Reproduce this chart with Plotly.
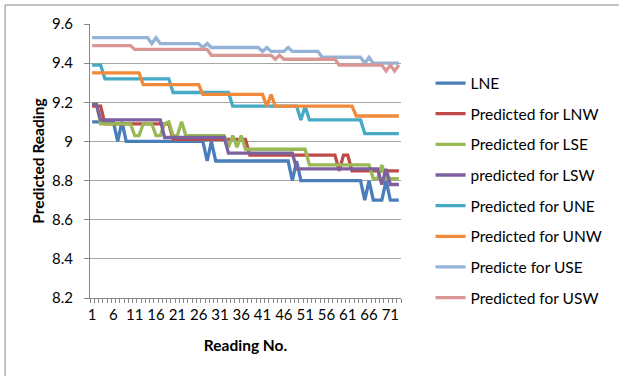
import plotly.graph_objects as go

readings = list(range(1, 74))
x_tick_vals = [1, 6, 11, 16, 21, 26, 31, 36, 41, 46, 51, 56, 61, 66, 71]
x_tick_labels = ["1", "6", "11", "16", "21", "26", "31", "36", "41", "46", "51", "56", "61", "66", "71"]
y_tick_vals = [8.2, 8.4, 8.6, 8.8, 9.0, 9.2, 9.4, 9.6]
y_tick_labels = ["8.2", "8.4", "8.6", "8.8", "9", "9.2", "9.4", "9.6"]

lne = [9.1, 9.1, 9.1, 9.1, 9.1, 9.1, 9.0, 9.1, 9.0, 9.0,
       9.0, 9.0, 9.0, 9.0, 9.0, 9.0, 9.0, 9.0, 9.0, 9.0,
       9.0, 9.0, 9.0, 9.0, 9.0, 9.0, 9.0, 8.9, 9.0, 8.9,
       8.9, 8.9, 8.9, 8.9, 8.9, 8.9, 8.9, 8.9, 8.9, 8.9,
       8.9, 8.9, 8.9, 8.9, 8.9, 8.9, 8.9, 8.8, 8.9, 8.8,
       8.8, 8.8, 8.8, 8.8, 8.8, 8.8, 8.8, 8.8, 8.8, 8.8,
       8.8, 8.8, 8.8, 8.8, 8.7, 8.8, 8.7, 8.7, 8.7, 8.8,
       8.7, 8.7, 8.7]

lnw = [9.18, 9.18, 9.18, 9.09, 9.09, 9.09, 9.09, 9.09, 9.09, 9.09,
       9.09, 9.09, 9.09, 9.09, 9.09, 9.09, 9.09, 9.09, 9.09, 9.01,
       9.01, 9.01, 9.01, 9.01, 9.01, 9.01, 9.01, 9.01, 9.01, 9.01,
       9.01, 9.01, 9.01, 9.01, 9.01, 9.01, 9.01, 8.93, 8.93, 8.93,
       8.93, 8.93, 8.93, 8.93, 8.93, 8.93, 8.93, 8.93, 8.93, 8.93,
       8.93, 8.93, 8.93, 8.93, 8.93, 8.93, 8.93, 8.93, 8.85, 8.93,
       8.93, 8.85, 8.85, 8.85, 8.85, 8.85, 8.85, 8.85, 8.85, 8.85,
       8.85, 8.85, 8.85]

lse = [9.19, 9.19, 9.09, 9.09, 9.09, 9.09, 9.09, 9.09, 9.09, 9.09,
       9.03, 9.03, 9.09, 9.09, 9.09, 9.03, 9.03, 9.09, 9.10, 9.03,
       9.03, 9.10, 9.03, 9.03, 9.03, 9.03, 9.03, 9.03, 9.03, 9.03,
       9.03, 9.03, 8.97, 9.03, 8.97, 9.03, 8.96, 8.96, 8.96, 8.96,
       8.96, 8.96, 8.96, 8.96, 8.96, 8.96, 8.96, 8.96, 8.96, 8.96,
       8.96, 8.88, 8.88, 8.88, 8.88, 8.88, 8.88, 8.88, 8.88, 8.88,
       8.88, 8.88, 8.88, 8.88, 8.88, 8.88, 8.81, 8.81, 8.88, 8.81,
       8.81, 8.81, 8.81]

lsw = [9.19, 9.19, 9.11, 9.11, 9.11, 9.11, 9.11, 9.11, 9.11, 9.11,
       9.11, 9.11, 9.11, 9.11, 9.11, 9.11, 9.11, 9.02, 9.02, 9.02,
       9.02, 9.02, 9.02, 9.02, 9.02, 9.02, 9.02, 9.02, 9.02, 9.02,
       9.02, 9.02, 8.94, 8.94, 8.94, 8.94, 8.94, 8.94, 8.94, 8.94,
       8.94, 8.94, 8.94, 8.94, 8.94, 8.94, 8.94, 8.94, 8.86, 8.86,
       8.86, 8.86, 8.86, 8.86, 8.86, 8.86, 8.86, 8.86, 8.86, 8.86,
       8.86, 8.86, 8.86, 8.86, 8.86, 8.86, 8.86, 8.86, 8.78, 8.86,
       8.78, 8.78, 8.78]

une = [9.39, 9.39, 9.39, 9.32, 9.32, 9.32, 9.32, 9.32, 9.32, 9.32,
       9.32, 9.32, 9.32, 9.32, 9.32, 9.32, 9.32, 9.32, 9.32, 9.25,
       9.25, 9.25, 9.25, 9.25, 9.25, 9.25, 9.25, 9.25, 9.25, 9.25,
       9.25, 9.25, 9.25, 9.18, 9.18, 9.18, 9.18, 9.18, 9.18, 9.18,
       9.18, 9.18, 9.18, 9.18, 9.18, 9.18, 9.18, 9.18, 9.18, 9.11,
       9.18, 9.11, 9.11, 9.11, 9.11, 9.11, 9.11, 9.11, 9.11, 9.11,
       9.11, 9.11, 9.11, 9.11, 9.04, 9.04, 9.04, 9.04, 9.04, 9.04,
       9.04, 9.04, 9.04]

unw = [9.35, 9.35, 9.35, 9.35, 9.35, 9.35, 9.35, 9.35, 9.35, 9.35,
       9.35, 9.35, 9.29, 9.29, 9.29, 9.29, 9.29, 9.29, 9.29, 9.29,
       9.29, 9.29, 9.29, 9.29, 9.29, 9.29, 9.24, 9.24, 9.24, 9.24,
       9.24, 9.24, 9.24, 9.24, 9.24, 9.24, 9.24, 9.24, 9.24, 9.24,
       9.24, 9.18, 9.24, 9.18, 9.18, 9.18, 9.18, 9.18, 9.18, 9.18,
       9.18, 9.18, 9.18, 9.18, 9.18, 9.18, 9.18, 9.18, 9.18, 9.18,
       9.18, 9.18, 9.13, 9.13, 9.13, 9.13, 9.13, 9.13, 9.13, 9.13,
       9.13, 9.13, 9.13]

use = [9.53, 9.53, 9.53, 9.53, 9.53, 9.53, 9.53, 9.53, 9.53, 9.53,
       9.53, 9.53, 9.53, 9.53, 9.50, 9.53, 9.50, 9.50, 9.50, 9.50,
       9.50, 9.50, 9.50, 9.50, 9.50, 9.50, 9.48, 9.50, 9.48, 9.48,
       9.48, 9.48, 9.48, 9.48, 9.48, 9.48, 9.48, 9.48, 9.48, 9.48,
       9.46, 9.48, 9.46, 9.46, 9.46, 9.46, 9.48, 9.46, 9.46, 9.46,
       9.46, 9.46, 9.46, 9.46, 9.43, 9.43, 9.43, 9.43, 9.43, 9.43,
       9.43, 9.43, 9.43, 9.43, 9.40, 9.43, 9.40, 9.40, 9.40, 9.40,
       9.40, 9.40, 9.40]

usw = [9.49, 9.49, 9.49, 9.49, 9.49, 9.49, 9.49, 9.49, 9.49, 9.49,
       9.47, 9.47, 9.47, 9.47, 9.47, 9.47, 9.47, 9.47, 9.47, 9.47,
       9.47, 9.47, 9.47, 9.47, 9.47, 9.47, 9.47, 9.47, 9.44, 9.44,
       9.44, 9.44, 9.44, 9.44, 9.44, 9.44, 9.44, 9.44, 9.44, 9.44,
       9.44, 9.44, 9.44, 9.42, 9.44, 9.42, 9.42, 9.42, 9.42, 9.42,
       9.42, 9.42, 9.42, 9.42, 9.42, 9.42, 9.42, 9.42, 9.39, 9.39,
       9.39, 9.39, 9.39, 9.39, 9.39, 9.39, 9.39, 9.39, 9.39, 9.36,
       9.39, 9.36, 9.39]

series_names = ["LNE", "Predicted for LNW", "Predicted for LSE", "predicted for LSW",
                "Predicted for UNE", "Predicted for UNW", "Predicte for USE", "Predicted for USW"]
series_values = [lne, lnw, lse, lsw, une, unw, use, usw]
series_colors = ["#4A7EBB", "#BE4B48", "#98B954", "#7D60A0",
                 "#46AAC5", "#F08A3A", "#95B3D7", "#D99694"]

FONT = "Lato"
AX = "#868686"

fig = go.Figure()
for i, (name, vals, col) in enumerate(zip(series_names, series_values, series_colors)):
    fig.add_trace(go.Scatter(x=readings, y=vals, mode="lines", name=name,
                             legendgroup=f"g{i}",
                             line=dict(color=col, width=3.3)))

fig.update_layout(
    width=619, height=376,
    margin=dict(l=90, r=214, t=24, b=78),
    paper_bgcolor="white", plot_bgcolor="white",
    font=dict(family=FONT, size=15, color="#000000"),
    showlegend=True,
    legend=dict(x=1.095, y=0.845, xanchor="left", yanchor="top",
                font=dict(family=FONT, size=15.5, color="#000000"),
                tracegroupgap=7.5, itemwidth=30, bgcolor="rgba(0,0,0,0)"),
    xaxis=dict(range=[0.5, 73.5], tickmode="array", tickvals=x_tick_vals,
               ticktext=x_tick_labels, ticks="", showgrid=False, zeroline=False,
               showline=True, linecolor=AX, linewidth=1,
               ticklabelstandoff=3,
               tickfont=dict(family=FONT, size=15, color="#000000"),
               minor=dict(tickmode="linear", tick0=0.5, dtick=1, ticks="outside",
                          ticklen=4, tickcolor=AX, tickwidth=1, showgrid=False),
               title=dict(text="<b>Reading No.</b>", standoff=18,
                          font=dict(family=FONT, size=15.5, color="#000000"))),
    yaxis=dict(range=[8.2, 9.6], tickmode="array", tickvals=y_tick_vals,
               ticktext=y_tick_labels, ticks="outside", ticklen=5, tickcolor=AX,
               showgrid=True, gridcolor="#A6A6A6", gridwidth=1, zeroline=False,
               showline=True, linecolor=AX, linewidth=1,
               ticklabelstandoff=8,
               tickfont=dict(family=FONT, size=15, color="#000000"),
               title=dict(text="<b>Predicted Reading</b>", standoff=3,
                          font=dict(family=FONT, size=15.5, color="#000000"))),
    shapes=[dict(type="rect", xref="paper", yref="paper",
                 x0=(4 - 90) / 315, x1=(640 - 90) / 315,
                 y0=(298 - 400) / 274, y1=(298 - 5) / 274,
                 line=dict(color=AX, width=1), fillcolor="rgba(0,0,0,0)",
                 layer="below")],
)

fig.write_html("out.html")
